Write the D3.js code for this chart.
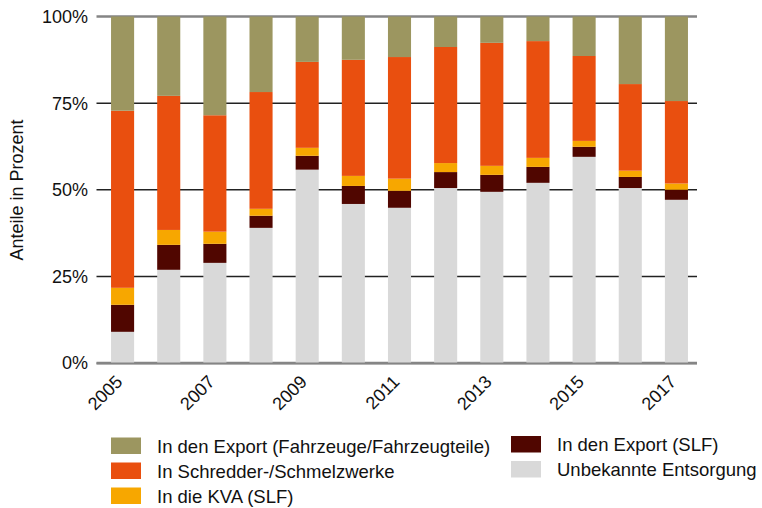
<!DOCTYPE html>
<html>
<head>
<meta charset="utf-8">
<script src="https://cdn.jsdelivr.net/npm/d3@7"></script>
<style>
  body { margin: 0; background: #fff; }
  svg { font-family: "Liberation Sans", Arial, Helvetica, sans-serif; }
</style>
</head>
<body>
<svg id="chart" width="762" height="508"></svg>
<script>
const years = ['2005', '2006', '2007', '2008', '2009', '2010', '2011', '2012', '2013', '2014', '2015', '2016', '2017'];
const tickYears = ['2005', '2007', '2009', '2011', '2013', '2015', '2017'];

// values in percent, stacked bottom to top
const unbekannt   = [9.0, 26.9, 28.9, 39.0, 55.8, 45.9, 44.8, 50.5, 49.4, 52.0, 59.5, 50.5, 47.1];
const exportSlf   = [7.8, 7.2, 5.5, 3.5, 4.0, 5.2, 4.9, 4.6, 4.9, 4.6, 2.9, 3.2, 2.9];
const kvaSlf      = [4.9, 4.3, 3.5, 2.0, 2.3, 2.9, 3.5, 2.6, 2.6, 2.6, 1.7, 1.8, 1.8];
const schredder   = [51.1, 38.7, 33.6, 33.7, 24.8, 33.5, 35.1, 33.5, 35.5, 33.7, 24.5, 25.0, 23.8];
const exportFahrz = [27.2, 22.9, 28.5, 21.8, 13.1, 12.5, 11.7, 8.8, 7.6, 7.1, 11.4, 19.5, 24.4];

const seriesNames = ['Unbekannte Entsorgung', 'In den Export (SLF)', 'In die KVA (SLF)',
                     'In Schredder-/Schmelzwerke', 'In den Export (Fahrzeuge/Fahrzeugteile)'];
const seriesColors = ['#d9d9d9', '#500600', '#f7a700', '#e94f0f', '#9c9660'];
const yTicks = [0, 25, 50, 75, 100];

const table = years.map((y, i) => ({
  year: y,
  'Unbekannte Entsorgung': unbekannt[i],
  'In den Export (SLF)': exportSlf[i],
  'In die KVA (SLF)': kvaSlf[i],
  'In Schredder-/Schmelzwerke': schredder[i],
  'In den Export (Fahrzeuge/Fahrzeugteile)': exportFahrz[i]
}));

const svg = d3.select('#chart');

const x = d3.scaleBand()
              .domain(years)
              .range([99.5, 699.5])
              .paddingInner(0.5)
              .paddingOuter(0.25);

const y = d3.scaleLinear()
              .domain([0, 100])
              .range([363, 16.5]);

const color = d3.scaleOrdinal()
                  .domain(seriesNames)
                  .range(seriesColors);

// gridlines
svg.append('g')
    .selectAll('line')
    .data(yTicks)
    .enter()
      .append('line')
      .attr('x1', 96.5)
      .attr('x2', 697)
      .attr('y1', d => y(d))
      .attr('y2', d => y(d))
      .attr('stroke', d => (d === 0 || d === 100) ? '#858585' : '#222')
      .attr('stroke-width', d => (d === 0 || d === 100) ? 2.5 : 1.5);

// y tick labels
svg.append('g')
    .selectAll('text')
    .data(yTicks)
    .enter()
      .append('text')
      .attr('x', 88)
      .attr('y', d => y(d))
      .attr('dy', '0.36em')
      .attr('text-anchor', 'end')
      .attr('font-size', '18px')
      .attr('fill', '#111')
      .text(d => d + '%');

svg.append('text')
    .attr('transform', 'translate(23, 190) rotate(-90)')
    .attr('text-anchor', 'middle')
    .attr('font-size', '18px')
    .attr('fill', '#111')
    .text('Anteile in Prozent');

// stacked bars
const stack = d3.stack().keys(seriesNames);

svg.append('g')
    .selectAll('g')
    .data(stack(table))
    .enter()
      .append('g')
      .attr('fill', d => color(d.key))
    .selectAll('rect')
    .data(d => d)
    .enter()
      .append('rect')
      .attr('x', d => x(d.data.year))
      .attr('width', x.bandwidth())
      .attr('y', d => y(d[1]))
      .attr('height', d => y(d[0]) - y(d[1]));

// redraw the bottom baseline above bars
svg.append('line')
    .attr('x1', 96.5)
    .attr('x2', 697)
    .attr('y1', y(0) + 0.5)
    .attr('y2', y(0) + 0.5)
    .attr('stroke', '#858585')
    .attr('stroke-width', 2);

// x labels
svg.append('g')
    .selectAll('text')
    .data(tickYears)
    .enter()
      .append('text')
      .attr('transform', d => 'translate(' + (x(d) + x.bandwidth() / 2 + 1) + ', 383) rotate(-45)')
      .attr('text-anchor', 'end')
      .attr('font-size', '18px')
      .attr('fill', '#111')
      .text(d => d);

// legend
const legendItems = [
  { name: 'In den Export (Fahrzeuge/Fahrzeugteile)', col: 0, row: 0 },
  { name: 'In Schredder-/Schmelzwerke', col: 0, row: 1 },
  { name: 'In die KVA (SLF)', col: 0, row: 2 },
  { name: 'In den Export (SLF)', col: 1, row: 0 },
  { name: 'Unbekannte Entsorgung', col: 1, row: 1 }
];

const legend = svg.append('g')
                    .selectAll('g')
                    .data(legendItems)
                    .enter()
                      .append('g')
                      .attr('transform', d => 'translate(' + (d.col ? 511 : 111) + ', ' + (d.col ? 436 : 437.5) + ')');

legend.append('rect')
        .attr('x', 0)
        .attr('y', d => d.row * 25)
        .attr('width', 30)
        .attr('height', 16.5)
        .attr('fill', d => color(d.name));

legend.append('text')
        .attr('x', 46)
        .attr('y', d => d.row * 25 + 8.5)
        .attr('dy', '0.36em')
        .attr('font-size', '18.5px')
        .attr('fill', '#111')
        .text(d => d.name);
</script>
</body>
</html>
